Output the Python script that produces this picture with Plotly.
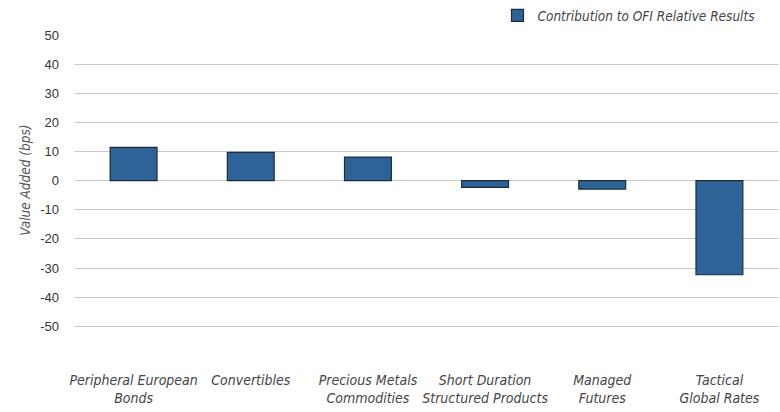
import plotly.graph_objects as go

categories = [
    "Peripheral European<br>Bonds",
    "Convertibles",
    "Precious Metals<br>Commodities",
    "Short Duration<br>Structured Products",
    "Managed<br>Futures",
    "Tactical<br>Global Rates",
]
values = [11.4, 9.7, 8.1, -2.3, -2.9, -32.3]
series_name = "Contribution to OFI Relative Results"
y_title = "Value Added (bps)"
y_ticks = [50, 40, 30, 20, 10, 0, -10, -20, -30, -40, -50]

font_fam = "Liberation Sans Narrow, Arial Narrow, DejaVu Sans Condensed, Liberation Sans, sans-serif"

fig = go.Figure()
fig.add_trace(go.Bar(
    x=categories,
    y=values,
    name=series_name,
    marker=dict(color="#2e6397", line=dict(color="#1b2c3d", width=1.2)),
    showlegend=True,
))

fig.add_annotation(
    text=y_title,
    xref="paper", yref="y",
    x=-0.071, y=0,
    xanchor="center", yanchor="middle",
    textangle=-90,
    showarrow=False,
    font=dict(family=font_fam, size=13.5, color="#555555", style="italic"),
)

fig.update_layout(
    width=780,
    height=412,
    margin=dict(l=75, r=2, t=35, b=42),
    paper_bgcolor="white",
    plot_bgcolor="white",
    bargap=0.6,
    showlegend=True,
    legend=dict(
        xref="container", yref="container",
        x=0.975, y=0.962, xanchor="right", yanchor="middle",
        orientation="h",
        font=dict(family=font_fam, size=13.5, color="#444444", style="italic"),
        bgcolor="rgba(0,0,0,0)",
        itemwidth=30,
    ),
    xaxis=dict(
        automargin=False,
        showgrid=False,
        showline=False,
        zeroline=False,
        ticks="",
        tickfont=dict(family=font_fam, size=14, color="#444444", style="italic"),
    ),
    yaxis=dict(
        automargin=False,
        range=[-65, 50],
        tickvals=y_ticks,
        ticktext=[str(v) for v in y_ticks],
        showgrid=True,
        gridcolor="#c9c9c9",
        gridwidth=1.2,
        zeroline=True,
        zerolinecolor="#c9c9c9",
        zerolinewidth=1.2,
        showline=False,
        ticks="",
        ticklabelstandoff=15,
        tickfont=dict(family="Liberation Sans, Arial, sans-serif", size=13, color="#333333"),
    ),
)

fig.write_html(
    "out.html",
    config={"displayModeBar": False},
    post_script="document.body.style.margin='0';document.body.style.padding='0';",
)
